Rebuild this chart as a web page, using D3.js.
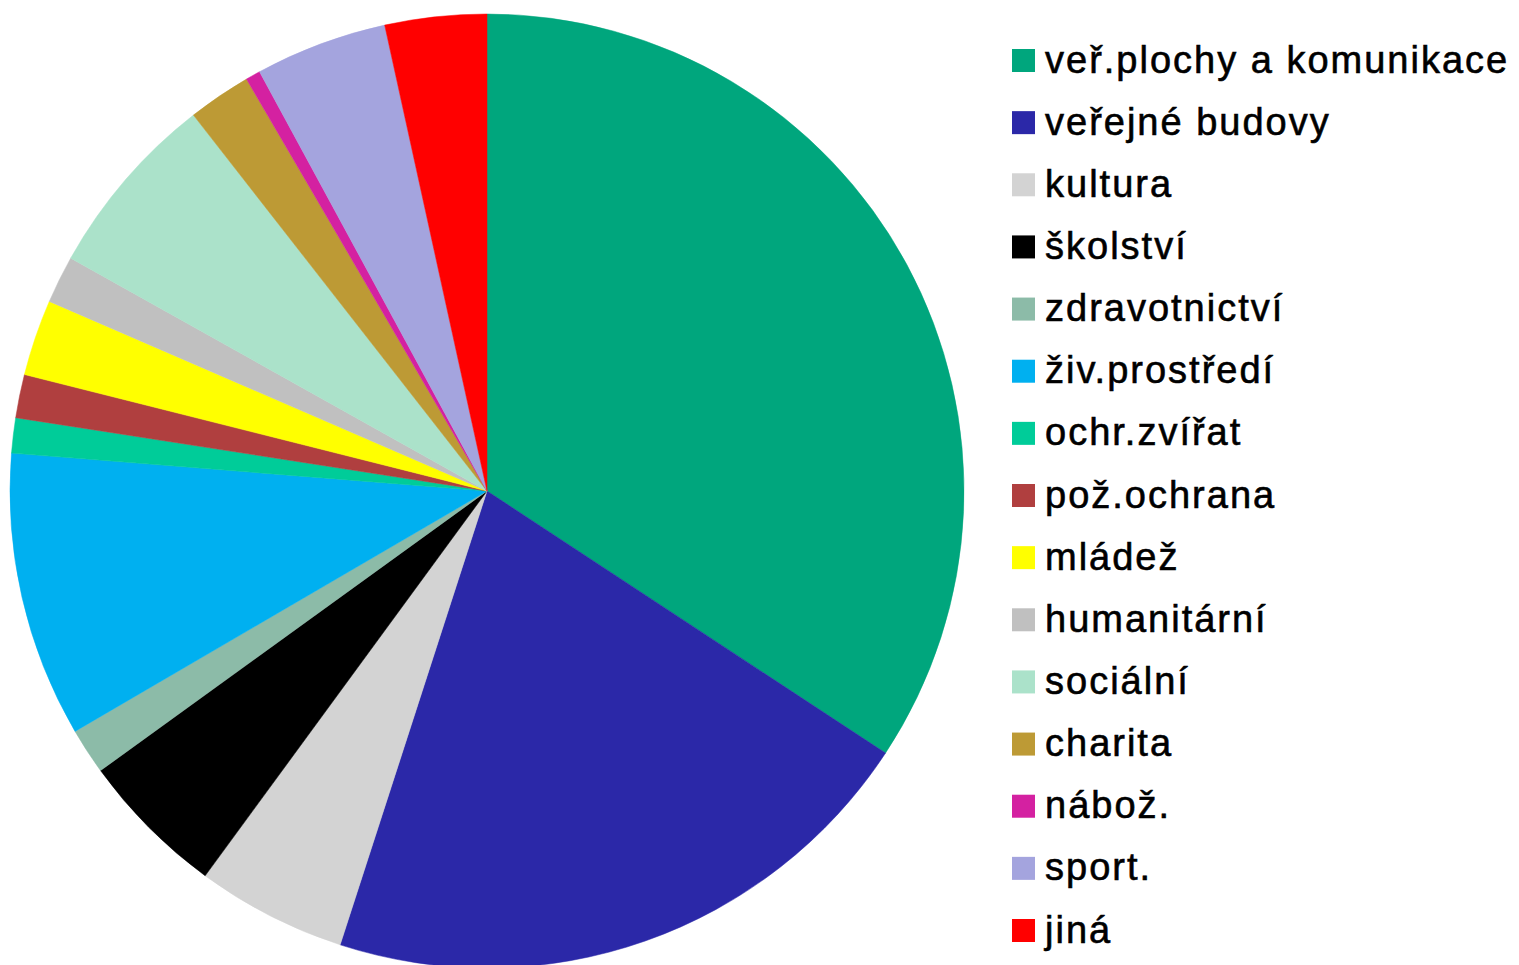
<!DOCTYPE html>
<html>
<head>
<meta charset="utf-8">
<script src="https://cdn.jsdelivr.net/npm/d3@7"></script>
<style>
  html, body { margin: 0; padding: 0; background: #fff; }
  svg { display: block; }
</style>
</head>
<body>
<div id="chart"></div>
<script>
//Datos del gráfico
const categories = ['veř.plochy a komunikace', 'veřejné budovy', 'kultura', 'školství', 'zdravotnictví',
    'živ.prostředí', 'ochr.zvířat', 'pož.ochrana', 'mládež', 'humanitární', 'sociální',
    'charita', 'nábož.', 'sport.', 'jiná'];
const values = [34.25, 20.72, 5.08, 4.97, 1.56, 9.67, 1.19, 1.47, 2.58, 1.61, 6.33, 2.14, 0.5, 4.47, 3.44];
const colors = ['#00A67D', '#2B28A8', '#D3D3D3', '#000000', '#8CBBA8', '#00B0F0', '#00CC99', '#B03F3F',
    '#FFFF00', '#C0C0C0', '#ABE2CA', '#BD9A35', '#D421A1', '#A4A4DE', '#FF0000'];

let width = 1519,
    height = 965;

let cx = 487, cy = 491, radius = 477;

let svg = d3.select('#chart')
    .append('svg')
        .attr('width', width)
        .attr('height', height);

let color = d3.scaleOrdinal()
    .domain(categories)
    .range(colors);

let pie = d3.pie()
    .sort(null)
    .value(function(d) { return d.value; });

let data = pie(categories.map(function(c, i) { return { name: c, value: values[i] }; }));

let arc = d3.arc()
    .innerRadius(0)
    .outerRadius(radius);

let chart = svg.append('g')
    .attr('transform', 'translate(' + cx + ',' + cy + ')');

chart.selectAll('path')
    .data(data)
    .enter()
    .append('path')
    .attr('d', arc)
    .attr('fill', function(d) { return color(d.data.name); })
    .attr('stroke', function(d) { return color(d.data.name); })
    .attr('stroke-width', 0.5);

//Leyenda
let legendY = d3.scalePoint()
    .domain(categories)
    .range([60.5, 930.5]);

let legend = svg.append('g');

let items = legend.selectAll('g')
    .data(categories)
    .enter()
    .append('g')
    .attr('transform', function(d) { return 'translate(1012,' + legendY(d) + ')'; });

items.append('rect')
    .attr('x', 0)
    .attr('y', -11.5)
    .attr('width', 23)
    .attr('height', 23)
    .attr('fill', function(d) { return color(d); });

items.append('text')
    .attr('x', 33)
    .attr('y', 12)
    .style('font-family', 'Liberation Sans, Arial, sans-serif')
    .style('font-size', '38px')
    .style('letter-spacing', '2px')
    .style('fill', '#000')
    .style('stroke', '#000')
    .style('stroke-width', '0.6px')
    .text(function(d) { return d; });
</script>
</body>
</html>
